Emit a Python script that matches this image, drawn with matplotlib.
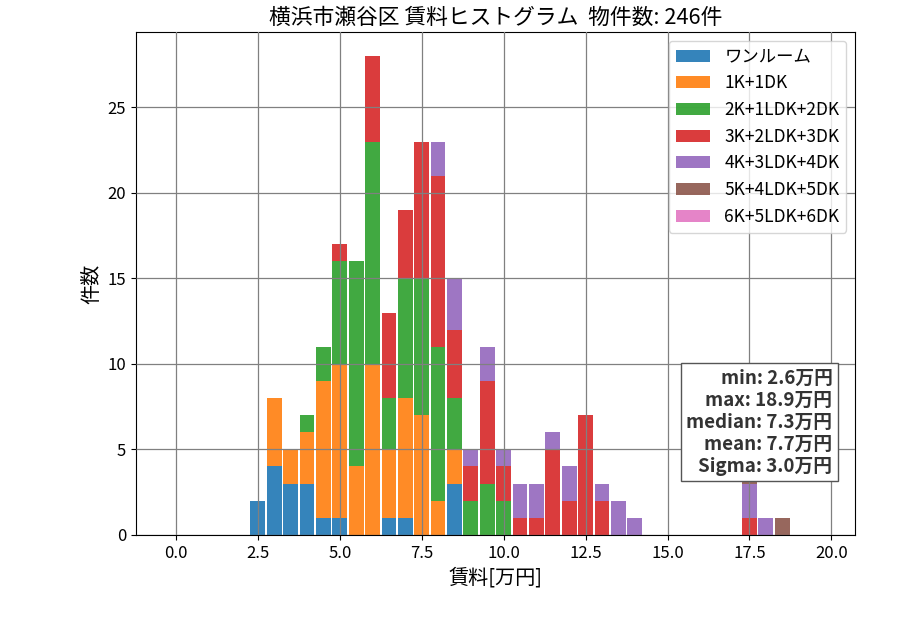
import matplotlib
matplotlib.use('Agg')
import matplotlib.pyplot as plt
import numpy as np

plt.rcParams['font.family'] = ['Noto Sans CJK JP', 'DejaVu Sans']

# bin left edges [万円], bin width 0.5
bin_left = [2.5, 3.0, 3.5, 4.0, 4.5, 5.0, 5.5, 6.0, 6.5, 7.0, 7.5, 8.0, 8.5,
            9.0, 9.5, 10.0, 10.5, 11.0, 11.5, 12.0, 12.5, 13.0, 13.5, 14.0,
            14.5, 15.0, 15.5, 16.0, 16.5, 17.0, 17.5, 18.0, 18.5]

labels = ['ワンルーム', '1K+1DK', '2K+1LDK+2DK', '3K+2LDK+3DK',
          '4K+3LDK+4DK', '5K+4LDK+5DK', '6K+5LDK+6DK']

one_room = [2, 4, 3, 3, 1, 1, 0, 0, 1, 1, 0, 0, 3, 0, 0, 0, 0, 0, 0, 0, 0, 0, 0, 0, 0, 0, 0, 0, 0, 0, 0, 0, 0]
k1 = [0, 4, 2, 3, 8, 9, 4, 10, 4, 7, 7, 2, 2, 0, 0, 0, 0, 0, 0, 0, 0, 0, 0, 0, 0, 0, 0, 0, 0, 0, 0, 0, 0]
k2 = [0, 0, 0, 1, 2, 6, 12, 13, 3, 7, 8, 9, 3, 2, 3, 2, 0, 0, 0, 0, 0, 0, 0, 0, 0, 0, 0, 0, 0, 0, 0, 0, 0]
k3 = [0, 0, 0, 0, 0, 1, 0, 5, 5, 4, 8, 10, 4, 2, 6, 2, 1, 1, 5, 2, 7, 2, 0, 0, 0, 0, 0, 0, 0, 0, 1, 0, 0]
k4 = [0, 0, 0, 0, 0, 0, 0, 0, 0, 0, 0, 2, 3, 1, 2, 1, 2, 2, 1, 2, 0, 1, 2, 1, 0, 0, 0, 0, 0, 0, 2, 1, 0]
k5 = [0, 0, 0, 0, 0, 0, 0, 0, 0, 0, 0, 0, 0, 0, 0, 0, 0, 0, 0, 0, 0, 0, 0, 0, 0, 0, 0, 0, 0, 0, 4, 0, 1]
k6 = [0] * len(bin_left)

stats_text = 'min: 2.6万円\nmax: 18.9万円\nmedian: 7.3万円\nmean: 7.7万円\nSigma: 3.0万円'

series = [one_room, k1, k2, k3, k4, k5, k6]
colors = plt.rcParams['axes.prop_cycle'].by_key()['color']

fig = plt.figure(figsize=(9, 6.3), dpi=100)
ax = fig.add_axes([0.151, 0.151, 0.799, 0.798])

bottom = np.zeros(len(bin_left))
for i, (lab, vals) in enumerate(zip(labels, series)):
    vals = np.array(vals)
    ax.bar(bin_left, vals, width=0.45, bottom=bottom, color=colors[i],
           alpha=0.9, label=lab)
    bottom += vals

ax.set_xlim(-1.22, 20.72)
ax.set_ylim(0, bottom.max() * 1.05)
ax.grid(True, color='gray', linewidth=0.9)
ax.set_axisbelow(False)
ax.tick_params(labelsize=12)

ax.set_title('横浜市瀬谷区 賃料ヒストグラム  物件数: 246件', fontsize=15.7)
ax.set_xlabel('賃料[万円]', fontsize=14.5)
ax.set_ylabel('件数', fontsize=14.5)
ax.legend(loc='upper right', fontsize=12.5)

ax.text(0.9686, 0.118, stats_text, transform=ax.transAxes, ha='right',
        va='bottom', fontsize=13.5, fontweight='bold', color='#333333',
        linespacing=1.2,
        bbox=dict(facecolor='white', edgecolor='#555555', boxstyle='square,pad=0.3'))

fig.savefig('out.png', dpi=100)
